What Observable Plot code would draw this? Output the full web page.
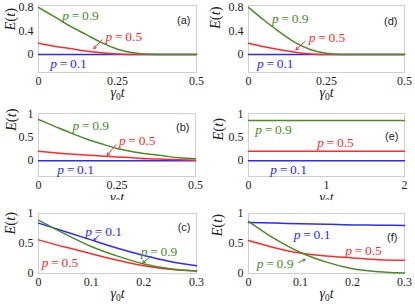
<!DOCTYPE html>
<html><head><meta charset="utf-8">
<script src="https://cdn.jsdelivr.net/npm/d3@7"></script>
<script src="https://cdn.jsdelivr.net/npm/@observablehq/plot@0.6"></script>
<style>
body{margin:0;background:#fff;}
#root{position:relative;width:415px;height:306px;overflow:hidden;background:#fff;}
.panel{position:absolute;overflow:hidden;}
</style></head><body><div id="root"></div>
<script>
// ---- data ----
const pLabels = ["p = 0.1", "p = 0.5", "p = 0.9"];
const tShort = [0, 0.05, 0.1, 0.15, 0.2, 0.25, 0.3, 0.35, 0.4, 0.45, 0.5];
const tC = [0, 0.05, 0.1, 0.15, 0.2, 0.25, 0.3];
const tE = [0, 0.5, 1, 1.5, 2];

const a_p01 = [0, 0, 0, 0, 0, 0, 0, 0, 0, 0, 0];
const a_p05 = [0.19, 0.14, 0.10, 0.06, 0.03, 0.01, 0.0, 0, 0, 0, 0];
const a_p09 = [0.80, 0.64, 0.48, 0.34, 0.20, 0.09, 0.03, 0.005, 0, 0, 0];

const b_p01 = [0, 0, 0, 0, 0, 0, 0, 0, 0, 0, 0];
const b_p05 = [0.20, 0.17, 0.14, 0.12, 0.10, 0.08, 0.06, 0.04, 0.03, 0.02, 0.01];
const b_p09 = [0.88, 0.74, 0.60, 0.47, 0.36, 0.26, 0.19, 0.14, 0.10, 0.06, 0.04];

const c_p01 = [0.84, 0.70, 0.56, 0.42, 0.30, 0.20, 0.13];
const c_p05 = [0.56, 0.44, 0.33, 0.22, 0.13, 0.07, 0.04];
const c_p09 = [0.89, 0.66, 0.45, 0.29, 0.16, 0.08, 0.04];

const d_p01 = [0, 0, 0, 0, 0, 0, 0, 0, 0, 0, 0];
const d_p05 = [0.19, 0.13, 0.08, 0.04, 0.01, 0.0, 0, 0, 0, 0, 0];
const d_p09 = [0.80, 0.58, 0.38, 0.20, 0.08, 0.02, 0.0, 0, 0, 0, 0];

const e_p01 = [0, 0, 0, 0, 0];
const e_p05 = [0.20, 0.20, 0.20, 0.20, 0.20];
const e_p09 = [0.86, 0.86, 0.86, 0.86, 0.86];

const f_p01 = [0.85, 0.84, 0.83, 0.82, 0.81, 0.805, 0.80];
const f_p05 = [0.55, 0.43, 0.34, 0.29, 0.26, 0.23, 0.22];
const f_p09 = [0.87, 0.58, 0.35, 0.19, 0.08, 0.03, 0.01];

const ticksHalf = [0, 0.25, 0.5];
const ticksThird = [0, 0.1, 0.2, 0.3];
const ticksTwo = [0, 1, 2];
const yTicks08 = [0, 0.4, 0.8];
const yTicks1 = [0, 0.5, 1];

// label anchors (data coordinates)
const annA = [{t:0.037,e:-0.15,k:0},{t:0.212,e:0.305,k:1},{t:0.075,e:0.66,k:2}];
const annB = [{t:0.06,e:-0.2,k:0},{t:0.256,e:0.43,k:1},{t:0.108,e:0.74,k:2}];
const annC = [{t:0.089,e:0.69,k:0},{t:0.006,e:0.18,k:1},{t:0.194,e:0.37,k:2}];
const annD = [{t:0.027,e:-0.15,k:0},{t:0.193,e:0.29,k:1},{t:0.075,e:0.60,k:2}];
const annE = [{t:0.28,e:-0.19,k:0},{t:0.88,e:0.39,k:1},{t:0.086,e:0.66,k:2}];
const annF = [{t:0.087,e:0.64,k:0},{t:0.186,e:0.38,k:1},{t:0.016,e:0.17,k:2}];

const arrA = [{t1:0.201,e1:0.25,t2:0.175,e2:0.10,k:1}];
const arrB = [{t1:0.246,e1:0.34,t2:0.219,e2:0.11,k:1}];
const arrC = [{t1:0.114,e1:0.63,t2:0.105,e2:0.55,k:0},{t1:0.215,e1:0.29,t2:0.198,e2:0.18,k:2}];
const arrD = [{t1:0.182,e1:0.225,t2:0.152,e2:0.08,k:1}];
const arrE = [];
const arrF = [{t1:0.096,e1:0.18,t2:0.109,e2:0.235,k:2}];

// ---- styling ----
const colors = ["#2b2bff", "#ff2a2a", "#4a8c28"];
const serif = "'Liberation Serif', Tinos, 'Times New Roman', Times, 'DejaVu Serif', serif";
const sans = "'Liberation Sans', Arimo, Arial, 'DejaVu Sans', sans-serif";

const panels = [
  {tag:"(a)", left:0,   top:0,   w:205, h:100, ml:38, mr:9,  mt:5,  mb:28, t:tShort, s:[a_p01,a_p05,a_p09], xd:[0,0.5], xt:ticksHalf, yd:[-0.305,0.83], yt:yTicks08, ann:annA, arr:arrA, tagDx:-6, tagDy:11, ylDx:-28, ylDy:-8.5, xlDy:24},
  {tag:"(b)", left:0,   top:100, w:205, h:100, ml:38, mr:10, mt:13, mb:24, t:tShort, s:[b_p01,b_p05,b_p09], xd:[0,0.5], xt:ticksHalf, yd:[-0.34,1.01], yt:yTicks1, ann:annB, arr:arrB, tagDx:-6, tagDy:10, ylDx:-27, ylDy:-14, xlDy:25},
  {tag:"(c)", left:0,   top:200, w:205, h:106, ml:38, mr:9,  mt:13, mb:33, t:tC, s:[c_p01,c_p05,c_p09], xd:[0,0.3], xt:ticksThird, yd:[0,1], yt:yTicks1, ann:annC, arr:arrC, tagDx:-6, tagDy:10, ylDx:-28, ylDy:-9, xlDy:24},
  {tag:"(d)", left:205, top:0,   w:210, h:100, ml:43, mr:11, mt:5,  mb:28, t:tShort, s:[d_p01,d_p05,d_p09], xd:[0,0.5], xt:ticksHalf, yd:[-0.305,0.83], yt:yTicks08, ann:annD, arr:arrD, tagDx:-7, tagDy:12, ylDx:-33, ylDy:-10, xlDy:24},
  {tag:"(e)", left:205, top:100, w:210, h:100, ml:43, mr:11, mt:13, mb:24, t:tE, s:[e_p01,e_p05,e_p09], xd:[0,2], xt:ticksTwo, yd:[-0.34,1.01], yt:yTicks1, ann:annE, arr:arrE, tagDx:-6, tagDy:19, ylDx:-30, ylDy:-4.5, xlDy:25},
  {tag:"(f)", left:205, top:200, w:210, h:106, ml:43, mr:11, mt:13, mb:33, t:tC, s:[f_p01,f_p05,f_p09], xd:[0,0.3], xt:ticksThird, yd:[0,1], yt:yTicks1, ann:annF, arr:arrF, tagDx:-7, tagDy:20, ylDx:-31, ylDy:-7, xlDy:24}
];

const root = document.getElementById("root");
const fmt = d => d === 0 ? "0" : String(d);

for (const P of panels) {
  const rows = [];
  P.s.forEach((arr, k) => arr.forEach((v, i) => rows.push({t: P.t[i], e: v, k})));
  const ann = P.ann.map(a => ({...a, label: pLabels[a.k]}));
  const svg = Plot.plot({
    width: P.w, height: P.h,
    marginLeft: P.ml, marginRight: P.mr, marginTop: P.mt, marginBottom: P.mb,
    style: {fontSize: "12px", color: "#222", background: "transparent"},
    x: {domain: P.xd, ticks: P.xt, tickFormat: fmt, tickSize: 0, tickPadding: 4, label: null},
    y: {domain: P.yd, ticks: P.yt, tickFormat: fmt, tickSize: 0, tickPadding: 5, label: null},
    marks: [
      Plot.frame({stroke: "#cfcfcf", strokeWidth: 1}),
      Plot.line(rows, {x: "t", y: "e", z: "k", stroke: d => colors[d.k], strokeWidth: 1.5, curve: "monotone-x"}),
      Plot.arrow(P.arr, {x1: "t1", y1: "e1", x2: "t2", y2: "e2", stroke: d => colors[d.k], strokeWidth: 1, headLength: 4}),
      Plot.text(ann, {x: "t", y: "e", text: "label", fill: d => colors[d.k], textAnchor: "start", fontSize: 13.5}),
      Plot.text([P.tag], {frameAnchor: "top-right", dx: P.tagDx, dy: P.tagDy, text: d => d, fontSize: 11, fill: "#222", textAnchor: "end"}),
      Plot.text(["E(t)"], {frameAnchor: "left", dx: P.ylDx, dy: P.ylDy, text: d => d, rotate: -90, fontSize: 14.5, fill: "#222"}),
      Plot.text(["g0t"], {frameAnchor: "bottom", dx: 0, dy: P.xlDy, text: d => d, fontSize: 14, fill: "#222"})
    ]
  });
  svg.style.overflow = "hidden";
  svg.setAttribute("font-family", serif);
  svg.style.setProperty("font-family", serif, "important");
  d3.select(svg).selectAll("g").each(function() { this.removeAttribute("font-family"); });
  d3.select(svg).selectAll("text").each(function() {
    const s = this.textContent;
    if (s.startsWith("(") && s.length === 3) {
      this.style.setProperty("font-family", sans, "important");
      return;
    }
    this.style.setProperty("font-family", serif, "important");
    if (s.startsWith("p = ")) {
      this.innerHTML = '<tspan font-style="italic">p</tspan>\u2009=\u2009' + s.slice(4);
    } else if (s === "E(t)") {
      this.innerHTML = '<tspan font-style="italic">E</tspan>(<tspan font-style="italic">t</tspan>)';
    } else if (s === "g0t") {
      this.innerHTML = '<tspan font-style="italic">\u03B3</tspan><tspan font-size="9.5" dy="3">0</tspan><tspan font-style="italic" dy="-3">t</tspan>';
    }
  });
  const div = document.createElement("div");
  div.className = "panel";
  div.style.left = P.left + "px";
  div.style.top = P.top + "px";
  div.style.width = P.w + "px";
  div.style.height = P.h + "px";
  div.appendChild(svg);
  root.appendChild(div);
}
</script></body></html>
